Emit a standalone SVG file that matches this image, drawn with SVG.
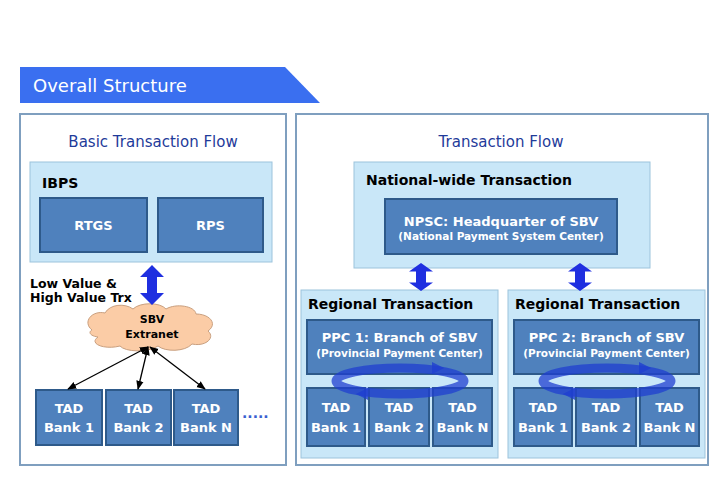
<svg xmlns="http://www.w3.org/2000/svg" width="728" height="504" viewBox="0 0 728 504">
<style>
text{font-family:Verdana,"DejaVu Sans",sans-serif}
.panel{fill:#fff;stroke:#7f9fbf;stroke-width:2}
.lb{fill:#c9e7f8;stroke:#9cc3dc;stroke-width:1}
.db{fill:#4f81bd;stroke:#2e5a8a;stroke-width:2}
.t{fill:#1f3b9a;font-size:15px;text-anchor:middle}
.h{font-size:14px;font-weight:bold;fill:#000}
.w{fill:#fff;font-weight:bold;text-anchor:middle;font-size:13px}
.s{fill:#fff;font-weight:bold;text-anchor:middle;font-size:10.5px}
.ring{fill:none;stroke:#1f3fd0;stroke-width:9;opacity:.75}
</style>
<defs>
<marker id="ah" viewBox="0 0 10 10" refX="9" refY="5" markerWidth="7" markerHeight="7" orient="auto-start-reverse"><path d="M0,1 L10,5 L0,9 z" fill="#000"/></marker>
<path id="dbl" d="M0,-20 L12,-8 L5,-8 L5,8 L12,8 L0,20 L-12,8 L-5,8 L-5,-8 L-12,-8 z" fill="#1f2fe0"/>
</defs>
<path d="M20,67 L285,67 L320,103 L20,103 z" fill="#3a6ff0"/>
<text x="33" y="92" font-size="18" fill="#fff">Overall Structure</text>
<g id="left">
<rect class="panel" x="20" y="114" width="266" height="351"/>
<text class="t" x="153" y="147">Basic Transaction Flow</text>
</g>
<g id="ibps">
<rect class="lb" x="30" y="162" width="242" height="100"/>
<text class="h" x="42" y="188">IBPS</text>
</g>
<g id="rtgs"><rect class="db" x="40" y="198" width="107" height="54"/><text class="w" x="93.5" y="230">RTGS</text></g>
<g id="rps"><rect class="db" x="158" y="198" width="105" height="54"/><text class="w" x="210.5" y="230">RPS</text></g>
<text x="30" y="288" font-size="12.5" font-weight="bold">Low Value &amp;</text>
<text x="30" y="302" font-size="12.5" font-weight="bold">High Value Trx</text>
<g id="cloud">
<path d="M92,330 C82,322 92,310 105,313 C110,304 125,303 133,309 C140,302 160,302 166,309 C176,303 195,306 196,314 C210,314 218,324 208,331 C216,338 205,347 192,344 C185,352 165,352 158,346 C148,353 125,352 120,346 C105,350 88,344 98,337 C90,336 88,332 92,330 z" fill="#fbcca6" stroke="#c9a080" stroke-width="1"/>
<text x="152" y="323" font-size="11" font-weight="bold" text-anchor="middle">SBV</text>
<text x="152" y="338" font-size="11" font-weight="bold" text-anchor="middle">Extranet</text>
</g>
<g id="b1"><rect class="db" x="36" y="390" width="66" height="55"/><text class="w" x="69" y="413">TAD</text><text class="w" x="69" y="432">Bank 1</text></g>
<g id="b2"><rect class="db" x="106" y="390" width="65" height="55"/><text class="w" x="138.5" y="413">TAD</text><text class="w" x="138.5" y="432">Bank 2</text></g>
<g id="bn"><rect class="db" x="174" y="390" width="64" height="55"/><text class="w" x="206" y="413">TAD</text><text class="w" x="206" y="432">Bank N</text></g>
<text x="242" y="418" font-size="14" font-weight="bold" fill="#3a5fd0">.....</text>
<g id="right">
<rect class="panel" x="296" y="114" width="412" height="351"/>
<text class="t" x="501" y="147">Transaction Flow</text>
</g>
<g id="nat">
<rect class="lb" x="354" y="162" width="296" height="106"/>
<text class="h" x="366" y="185">National-wide Transaction</text>
</g>
<g id="npsc"><rect class="db" x="385" y="199" width="232" height="55"/><text class="w" x="501" y="226">NPSC: Headquarter of SBV</text><text class="s" x="501" y="240">(National Payment System Center)</text></g>
<g id="reg1">
<rect class="lb" x="301" y="290" width="197" height="168"/>
<text class="h" x="308" y="309" font-size="14.5">Regional Transaction</text>
<rect class="db" x="307" y="320" width="185" height="54"/><text class="w" x="399.5" y="342">PPC 1: Branch of SBV</text><text class="s" x="399.5" y="357">(Provincial Payment Center)</text>
</g>
<g id="reg2">
<rect class="lb" x="508" y="290" width="197" height="168"/>
<text class="h" x="515" y="309" font-size="14.5">Regional Transaction</text>
<rect class="db" x="514" y="320" width="185" height="54"/><text class="w" x="606.5" y="342">PPC 2: Branch of SBV</text><text class="s" x="606.5" y="357">(Provincial Payment Center)</text>
</g>
<g id="r1b1"><rect class="db" x="307" y="388" width="58" height="58"/><text class="w" x="336" y="412">TAD</text><text class="w" x="336" y="432">Bank 1</text></g>
<g id="r1b2"><rect class="db" x="369" y="388" width="60" height="58"/><text class="w" x="399" y="412">TAD</text><text class="w" x="399" y="432">Bank 2</text></g>
<g id="r1bn"><rect class="db" x="433" y="388" width="59" height="58"/><text class="w" x="462.5" y="412">TAD</text><text class="w" x="462.5" y="432">Bank N</text></g>
<g id="r2b1"><rect class="db" x="514" y="388" width="58" height="58"/><text class="w" x="543" y="412">TAD</text><text class="w" x="543" y="432">Bank 1</text></g>
<g id="r2b2"><rect class="db" x="576" y="388" width="60" height="58"/><text class="w" x="606" y="412">TAD</text><text class="w" x="606" y="432">Bank 2</text></g>
<g id="r2bn"><rect class="db" x="640" y="388" width="59" height="58"/><text class="w" x="669.5" y="412">TAD</text><text class="w" x="669.5" y="432">Bank N</text></g>
<g id="connectors">
<use href="#dbl" x="152" y="285"/>
<use href="#dbl" x="421" y="277" transform="translate(421 277) scale(1 .7) translate(-421 -277)"/>
<use href="#dbl" x="580" y="277" transform="translate(580 277) scale(1 .7) translate(-580 -277)"/>
<g stroke="#000" stroke-width="1.3" marker-start="url(#ah)" marker-end="url(#ah)">
<line x1="148" y1="347" x2="68" y2="389"/>
<line x1="148" y1="347" x2="138" y2="389"/>
<line x1="150" y1="347" x2="205" y2="389"/>
</g>
<ellipse class="ring" cx="400" cy="381" rx="64" ry="13"/>
<ellipse class="ring" cx="607" cy="381" rx="64" ry="13"/>
<g fill="#1f3fd0" opacity=".8">
<path d="M432,362 l12,6 l-12,6 z"/><path d="M368,400 l-12,-6 l12,-6 z"/>
<path d="M639,362 l12,6 l-12,6 z"/><path d="M575,400 l-12,-6 l12,-6 z"/>
</g>
</g>
</svg>
